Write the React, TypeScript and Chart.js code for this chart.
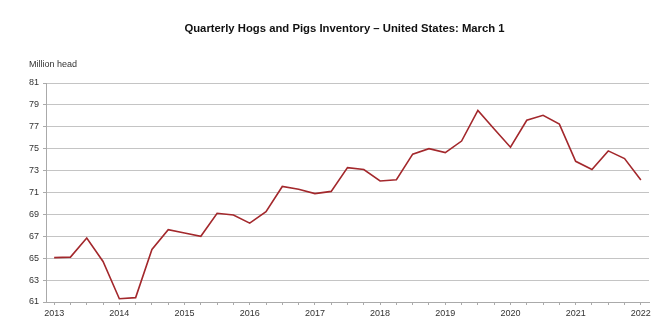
import React, { useEffect, useRef } from "react";
import { Chart, registerables } from "chart.js";

Chart.register(...registerables);

const TITLE = "Quarterly Hogs and Pigs Inventory \u2013 United States: March 1";
const UNIT_LABEL = "Million head";

const years = ["2013", "2014", "2015", "2016", "2017", "2018", "2019", "2020", "2021", "2022"];
const months = ["Mar", "Jun", "Sep", "Dec"];

const quarters: string[] = [];
years.forEach((y, yi) => {
  months.forEach((m) => {
    if (yi < years.length - 1 || m === "Mar") quarters.push(m + " " + y);
  });
});

const inventory = [
  65.05, 65.1, 66.85, 64.7,
  61.3, 61.4, 65.8, 67.6,
  67.3, 67.0, 69.1, 68.95,
  68.2, 69.25, 71.55, 71.3,
  70.9, 71.1, 73.27, 73.1,
  72.05, 72.17, 74.5, 75.0,
  74.64, 75.7, 78.5, 76.8,
  75.13, 77.6, 78.05, 77.25,
  73.85, 73.1, 74.8, 74.1,
  72.15,
];

const FONT = "'Liberation Sans', Arial, sans-serif";

export default function App() {
  const ref = useRef<HTMLCanvasElement | null>(null);

  useEffect(() => {
    document.body.style.margin = "0";
    const canvas = ref.current;
    if (!canvas) return;

    const textPlugin = {
      id: "textPlugin",
      afterDraw(chart: any) {
        const { ctx, chartArea } = chart;
        ctx.save();
        ctx.fillStyle = "#111";
        ctx.font = "bold 11.3px " + FONT;
        ctx.textAlign = "center";
        ctx.textBaseline = "middle";
        ctx.fillText(TITLE, (chartArea.left + chartArea.right) / 2 - 3, chartArea.top - 54);
        ctx.fillStyle = "#333";
        ctx.font = "9px " + FONT;
        ctx.textAlign = "left";
        ctx.fillText(UNIT_LABEL, chartArea.left - 17, chartArea.top - 18);
        ctx.restore();
      },
    };

    const chart = new Chart(canvas, {
      type: "line",
      data: {
        labels: quarters,
        datasets: [
          {
            data: inventory,
            borderColor: "#a3282c",
            borderWidth: 1.6,
            pointRadius: 0,
            tension: 0,
            fill: false,
          },
        ],
      },
      options: {
        animation: false,
        responsive: false,
        maintainAspectRatio: false,
        layout: { padding: { top: 83, right: 23, left: 0, bottom: 0 } },
        plugins: {
          legend: { display: false },
          title: { display: false },
          tooltip: { enabled: false },
        },
        scales: {
          x: {
            type: "category",
            offset: true,
            afterFit(s: any) {
              s.height = 31;
            },
            grid: {
              display: true,
              drawOnChartArea: false,
              drawTicks: true,
              tickLength: 3,
              offset: false,
              color: "#aaa",
            },
            border: { display: true, color: "#aaa" },
            ticks: {
              autoSkip: false,
              maxRotation: 0,
              minRotation: 0,
              padding: 3,
              color: "#333",
              font: { family: FONT, size: 9 },
              callback: (_v: any, i: number) => (i % 4 === 0 ? years[i / 4] : ""),
            },
          },
          y: {
            min: 61,
            max: 81,
            afterFit(s: any) {
              s.width = 46;
            },
            grid: {
              color: "#c4c4c4",
              lineWidth: 1,
              tickLength: 3,
              tickColor: "#aaa",
            },
            border: { display: true, color: "#aaa" },
            ticks: {
              stepSize: 2,
              padding: 4,
              color: "#333",
              font: { family: FONT, size: 9 },
            },
          },
        },
      },
      plugins: [textPlugin],
    } as any);

    return () => chart.destroy();
  }, []);

  return (
    <div style={{ position: "absolute", left: 0, top: 0, width: 672, height: 333, background: "#fff" }}>
      <canvas ref={ref} width={672} height={333} />
    </div>
  );
}
